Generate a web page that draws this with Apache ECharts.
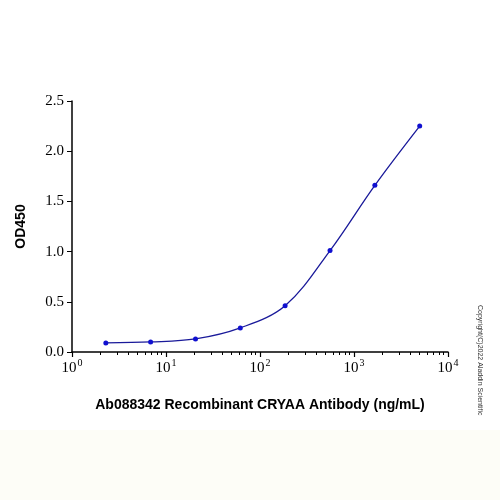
<!DOCTYPE html>
<html><head><meta charset="utf-8">
<script src="https://cdn.jsdelivr.net/npm/echarts@6/dist/echarts.min.js"></script>
<style>html,body{margin:0;padding:0;background:#fff}#c{width:500px;height:500px}</style>
</head><body><div id="c"></div>
<script>
var conc = [2.29, 6.86, 20.6, 61.7, 185, 556, 1667, 5000];
var od = [0.09, 0.10, 0.13, 0.24, 0.46, 1.01, 1.66, 2.25];
var expLabels = ['0', '1', '2', '3', '4'];

var chart = echarts.init(document.getElementById('c'));
chart.setOption({
  backgroundColor: '#fff',
  graphic: [{ type: 'rect', shape: { x: 0, y: 430, width: 500, height: 70 }, style: { fill: '#fdfdf7' } },
    { type: 'text', left: 476, top: 305, rotation: -Math.PI / 2,
      style: { text: 'Copyright(C)2022 Aladdin Scientific', fontSize: 7, fill: '#333', fontFamily: 'Liberation Sans' } }],
  grid: { left: 72, right: 52, top: 101, bottom: 148 },
  xAxis: {
    type: 'log', min: 1, max: 10000, logBase: 10,
    name: 'Ab088342 Recombinant CRYAA Antibody (ng/mL)', nameLocation: 'middle', nameGap: 46,
    nameTextStyle: { fontSize: 14, fontWeight: 'bold', color: '#000', fontFamily: 'Liberation Sans' },
    axisLine: { lineStyle: { color: '#000', width: 1.5 } },
    axisTick: { length: 5, lineStyle: { color: '#000', width: 1.2 } },
    minorTick: { show: true, splitNumber: 9, length: 3, lineStyle: { color: '#000', width: 1 } },
    splitLine: { show: false },
    axisLabel: { color: '#000', margin: 6,
      formatter: function (v) { return '{b|10}{s|' + expLabels[Math.round(Math.log10(v))] + '}'; },
      rich: {
        b: { fontSize: 15, fontFamily: 'Liberation Serif', color: '#000', verticalAlign: 'bottom' },
        s: { fontSize: 10, fontFamily: 'Liberation Serif', color: '#000', verticalAlign: 'top', padding: [0, 0, 8, 1] }
      } }
  },
  yAxis: {
    type: 'value', min: 0, max: 2.5, interval: 0.5,
    name: 'OD450', nameLocation: 'middle', nameGap: 44,
    nameTextStyle: { fontSize: 14, fontWeight: 'bold', color: '#000', fontFamily: 'Liberation Sans' },
    axisLine: { show: true, lineStyle: { color: '#000', width: 1.5 } },
    axisTick: { show: true, length: 5, lineStyle: { color: '#000' } },
    splitLine: { show: false },
    axisLabel: { color: '#000', fontSize: 15, fontFamily: 'Liberation Serif',
      formatter: function (v) { return v.toFixed(1); } }
  },
  series: [{
    type: 'line', smooth: 0.35,
    data: conc.map(function (c, i) { return [c, od[i]]; }),
    symbol: 'circle', symbolSize: 5,
    lineStyle: { color: '#1a1a9a', width: 1.3 },
    itemStyle: { color: '#1010d0' }
  }]
});
</script></body></html>
